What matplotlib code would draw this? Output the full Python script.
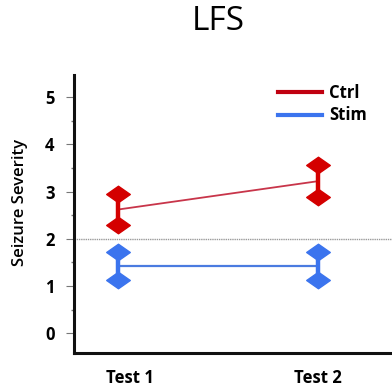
import matplotlib
matplotlib.use("Agg")
import matplotlib.pyplot as plt
import numpy as np
from matplotlib.path import Path
from matplotlib.transforms import ScaledTranslation

categories = ["Test 1", "Test 2"]
ctrl_mean = [2.62, 3.22]
ctrl_err = [0.33, 0.34]
stim_mean = [1.42, 1.42]
stim_err = [0.30, 0.30]
yticks = [0, 1, 2, 3, 4, 5]
threshold = 2.0

red = "#d40000"
red_line = "#c8354a"
blue = "#3b74ee"
blue_line = "#4a7be0"

plt.rcParams['font.family'] = ['Open Sans', 'DejaVu Sans']

fig = plt.figure(figsize=(3.92, 3.92), dpi=100)
ax = fig.add_axes([0.189, 0.1003, 0.811, 0.7087])

x = np.arange(1, len(categories) + 1)

diamond = Path([(-1, 0), (0, 0.7), (1, 0), (0, -0.7), (-1, 0)],
               [Path.MOVETO, Path.LINETO, Path.LINETO, Path.LINETO, Path.CLOSEPOLY])

ax.axhline(threshold, color="#9a9a9a", lw=1.0, ls=(0, (1, 0.6)), zorder=1)

for mean, err, c, lc, lw, lab in [(ctrl_mean, ctrl_err, red, red_line, 1.3, "Ctrl"),
                                  (stim_mean, stim_err, blue, blue_line, 1.6, "Stim")]:
    mean = np.array(mean); err = np.array(err)
    ax.plot(x, mean, color=lc, lw=lw, zorder=3)
    ax.errorbar(x, mean, yerr=err, fmt='none', ecolor=c, elinewidth=3.2, capsize=0, zorder=4)
    ax.plot(x, mean + err, ls='none', marker=diamond, markersize=17, color=c, mec=c, zorder=5)
    ax.plot(x, mean - err, ls='none', marker=diamond, markersize=17, color=c, mec=c, zorder=5)
    ax.plot([], [], color=c if lab == "Stim" else "#c00010", lw=3, label=lab)

ax.set_xlim(0.78, 2.37)
ax.set_ylim(-0.41, 5.47)
ax.set_yticks(yticks)
ax.set_yticks(np.arange(0.5, 5, 1.0), minor=True)
ax.set_yticklabels([str(t) for t in yticks], fontsize=12, fontweight='bold')
ax.tick_params(axis='y', which='major', direction='out', length=6, width=0.8, color="#777777", pad=8)
ax.tick_params(axis='y', which='minor', direction='out', length=2, width=1.0, color="#777777")
ax.set_xticks(x)
ax.set_xticklabels(categories, fontsize=12, fontweight='bold')
ax.tick_params(axis='x', length=0, pad=12)
lbl = ax.get_xticklabels()[0]
lbl.set_transform(lbl.get_transform() + ScaledTranslation(0.12, 0, fig.dpi_scale_trans))

for s in ['top', 'right']:
    ax.spines[s].set_visible(False)
for s in ['left', 'bottom']:
    ax.spines[s].set_linewidth(2.2)
    ax.spines[s].set_color("#111111")

ax.set_ylabel("Seizure Severity", fontsize=12, fontweight='semibold')
ax.yaxis.set_label_coords(-0.145, 0.54)

leg = ax.legend(loc='upper left', bbox_to_anchor=(0.595, 1.02), frameon=False,
                prop={'size': 12, 'weight': 'bold'}, handlelength=2.6,
                handletextpad=0.45, labelspacing=0.25)

fig.text(0.558, 0.945, "LFS", ha='center', va='center', fontsize=24)

fig.savefig("out.png", dpi=100)
